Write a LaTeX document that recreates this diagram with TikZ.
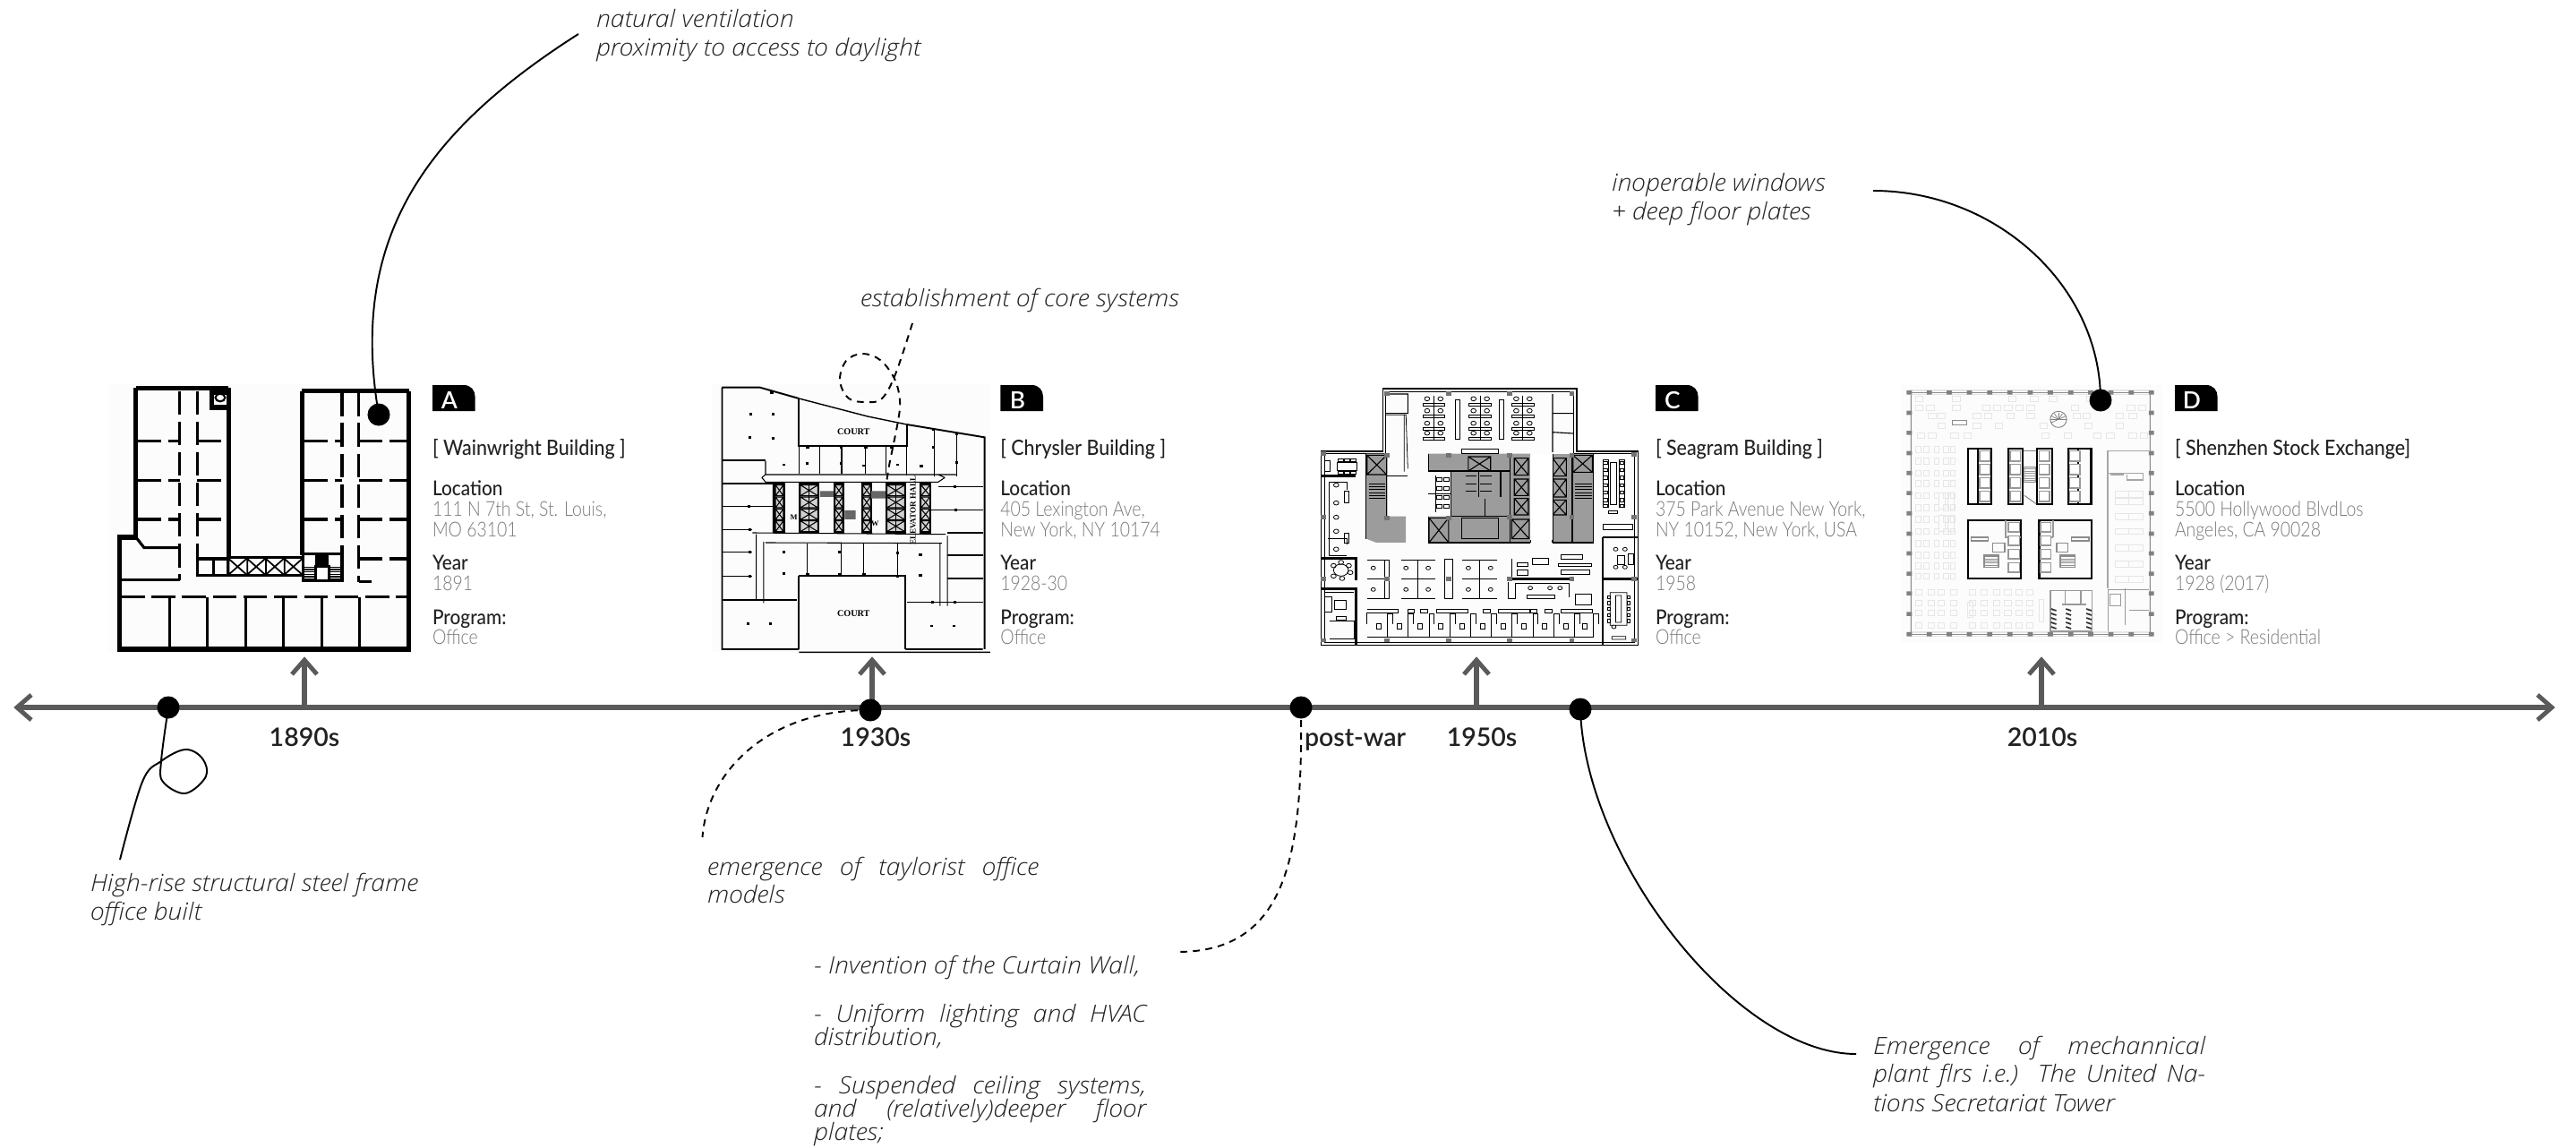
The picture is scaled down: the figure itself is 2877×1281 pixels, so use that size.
\documentclass[tikz,border=0pt]{standalone}
\usepackage{fontspec}
\setmainfont{Lato}
\newfontfamily\fnote[FakeStretch=1.07]{Open Sans Light Italic}
\newfontfamily\fmed[FakeStretch=.91]{Lato Medium}
\newfontfamily\fyear{Lato Semibold}
\newfontfamily\flight[FakeStretch=.85]{Lato Light}
\newfontfamily\fserif{Liberation Serif}
\definecolor{axis}{HTML}{5A5A5A}
\definecolor{ink}{HTML}{222222}
\definecolor{soft}{HTML}{7A7A7A}
\definecolor{coregray}{HTML}{9C9C9C}
\definecolor{pale}{HTML}{E6E6E6}
\tikzset{
  x=.01cm,y=-.01cm,
  notetext/.style={anchor=base west,inner sep=0,outer sep=0,text=ink,font=\fnote\fontsize{7.55pt}{8pt}\selectfont},
  infohead/.style={anchor=base west,inner sep=0,outer sep=0,text=ink,font=\fmed\fontsize{6.5pt}{8pt}\selectfont},
  infobody/.style={anchor=base west,inner sep=0,outer sep=0,text=soft,font=\flight\fontsize{6.5pt}{8pt}\selectfont},
  taglabel/.style={anchor=base,inner sep=0,outer sep=0,text=white,font=\fyear\fontsize{7.5pt}{8pt}\selectfont},
  yearlabel/.style={anchor=base,inner sep=0,outer sep=0,text=ink,font=\fyear\fontsize{8.1pt}{9pt}\selectfont},
  dotmark/.style={circle,fill=black,inner sep=0,minimum size=.25cm},
  axisline/.style={draw=axis,line width=1.5pt},
  axishead/.style={draw=axis,line width=1.4pt,fill=none},
  leader/.style={draw=black,line width=.55pt},
  dashleader/.style={draw=black,line width=.55pt,dash pattern=on 2.2pt off 1.8pt},
  wallA/.style={line width=1.5pt},
  partA/.style={line width=.95pt,dash pattern=on 7.5pt off 2.2pt},
  solidA/.style={line width=.9pt},
  thinB/.style={line width=.3pt},
  midB/.style={line width=.55pt},
  thinC/.style={line width=.22pt},
  midC/.style={line width=.32pt},
  heavyC/.style={line width=.7pt},
  heavyD/.style={line width=.6pt},
}
\newcommand\infoblock[8]{%
  \fill (#2,430) -- (#2+35,430) .. controls (#2+43,430) and (#2+47.6,436) .. (#2+47.6,443) -- (#2+47.6,459) -- (#2,459) -- cycle;
  \node[taglabel] (tag#1) at (#2+19,456) {#3};
  \node[infohead,font=\fmed\fontsize{6.7pt}{8pt}\selectfont] (title#1) at (#2,508) {#4};
  \node[infohead] (lochead#1) at (#2,553) {Location};
  \node[infobody] (locone#1) at (#2,576) {#5};
  \node[infobody] (loctwo#1) at (#2,599) {#6};
  \node[infohead] (yearhead#1) at (#2,636) {Year};
  \node[infobody] (yearval#1) at (#2,659) {#7};
  \node[infohead] (proghead#1) at (#2,697) {Program:};
  \node[infobody] (progval#1) at (#2,719) {#8};
}
\newcommand\xbox[4]{\draw (#1,#2) rectangle (#3,#4) (#1,#2) -- (#3,#4) (#1,#4) -- (#3,#2);}
\begin{document}
\begin{tikzpicture}
\useasboundingbox (0,0) rectangle (2877,1281);
\fill[white] (0,0) rectangle (2877,1281);

% ---------- plan A ----------
\begin{scope}[shift={(100,400)},xscale=.4146,yscale=.3333]
\fill[black!1] (50,85) rectangle (870,985);
\draw[wallA] (125,100) -- (375,100) (572,110) -- (860,110);
\draw[wallA] (125,100) -- (125,600) -- (80,600) -- (80,975) -- (860,975) -- (860,110);
\draw[wallA] (375,100) -- (375,672) (572,110) -- (572,660);
\draw[partA] (243,110) -- (243,745) (290,110) -- (290,730) (680,115) -- (680,655) (725,115) -- (725,750);
\foreach \yy in {278,410,540} {
  \draw[partA] (130,\yy) -- (243,\yy) (290,\yy) -- (372,\yy) (578,\yy) -- (680,\yy) (725,\yy) -- (858,\yy);
}
\draw[partA] (725,672) -- (858,672);
\draw[solidA] (125,600) -- (147,635) -- (243,635);
\draw[solidA] (85,743) -- (243,743) (725,748) -- (760,748);
\draw[partA] (85,800) -- (858,800);
\foreach \xx in {215,318,420,522,625,728} {\draw[solidA] (\xx,800) -- (\xx,970);}
\draw[wallA] (330,115) rectangle (375,165);
\draw[line width=.6pt] (352,132) circle[x radius=13,y radius=13];
\draw[solidA] (290,672) rectangle (372,728) (335,672) -- (335,728) (290,728) -- (572,728) (372,667) -- (572,667);
\foreach \xx in {375,425,475,525} {\draw[line width=.5pt] (\xx,672) -- (\xx+48,725) (\xx,725) -- (\xx+48,672) (\xx,672) -- (\xx,725);}
\draw[solidA] (575,655) rectangle (680,745);
\fill (608,655) rectangle (645,695);
\draw[solidA,fill=white] (610,697) rectangle (645,745);
\foreach \yy in {700,708,716,724,732,740} {\draw[line width=.4pt] (578,\yy) -- (605,\yy) (650,\yy) -- (677,\yy);}
\fill[white] (580,665) rectangle (605,690) (650,665) rectangle (675,690);
\end{scope}

% ---------- plan B ----------
\begin{scope}[shift={(770,400)},xscale=.4146,yscale=.3333]
\fill[black!1] (60,85) rectangle (810,985);
\draw[midB] (88,98) -- (88,975) -- (295,975) (88,98) -- (190,98) -- (295,135) (585,222) -- (795,265) -- (795,975) (582,975) -- (790,975);
\draw[line width=.4pt] (295,135) -- (480,195) -- (585,222) (295,985) -- (810,985);
\draw[midB] (295,135) -- (295,295) -- (585,295) -- (585,222);
\draw[midB] (295,730) -- (582,730) -- (582,975) (295,730) -- (295,975);
\node[anchor=center,inner sep=0,font=\fserif\bfseries\fontsize{2.9pt}{3pt}\selectfont] (courtup) at (442,246) {COURT};
\node[anchor=center,inner sep=0,font=\fserif\bfseries\fontsize{2.9pt}{3pt}\selectfont] (courtdn) at (442,855) {COURT};
\foreach \xx in {352,410,475,530} {\draw[thinB] (\xx,295) -- (\xx,388);}
\draw[thinB] (660,240) -- (660,395) (720,252) -- (720,395) (585,222) -- (585,392) (295,295) -- (295,388);
\draw[thinB] (205,390) -- (720,390) (205,345) -- (205,390) (205,415) -- (670,415) (195,400) -- (205,390) (195,400) -- (205,415) (688,400) -- (670,390) (688,400) -- (670,415);
\foreach \ya/\xb in {342/205,420/225,497/225,575/170,650/170,730/170,810/290} {\draw[thinB] (90,\ya) -- (\xb,\ya);}
\foreach \ya/\xb in {430/670,508/650,585/695,660/695,738/695,818/585} {\draw[thinB] (790,\ya) -- (\xb,\ya);}
\draw[thinB] (170,585) -- (690,590) (205,618) -- (680,620) (180,590) -- (180,810) (200,615) -- (200,820) (675,620) -- (675,830) (695,595) -- (695,830) (225,585) -- (225,415);
\foreach \xx in {318,408,470,560} {\draw[thinB] (\xx,620) -- (\xx,730);}
% core
\foreach \xl/\xr in {230/255,297/348,390/415,465/490,530/582,622/650} {
  \draw[midB,fill=black!18] (\xl,420) rectangle (\xr,585);
  \foreach \yt in {425,465,505,545} {
    \draw[thinB] (\xl+2,\yt) rectangle (\xr-2,\yt+36) (\xl+2,\yt) -- (\xr-2,\yt+36) (\xl+2,\yt+36) -- (\xr-2,\yt);
  }
}
\foreach \xm in {322,556} {\draw[midB] (\xm,420) -- (\xm,585);}
\fill[black!60] (352,445) rectangle (388,465) (490,445) rectangle (528,470) (418,510) rectangle (448,540);
\node[rotate=90,inner sep=0,font=\fserif\bfseries\fontsize{2.6pt}{3pt}\selectfont] (elevhall) at (602,510) {ELEVATOR HALL};
\node[inner sep=0,font=\fserif\bfseries\fontsize{2.4pt}{3pt}\selectfont] (menmark) at (281,533) {M};
\node[inner sep=0,font=\fserif\bfseries\fontsize{2.4pt}{3pt}\selectfont] (womark) at (500,553) {W};
% columns
\foreach \xx/\yy in {165/187,225/187,162/265,225/268,160/342,255/357,317/353,408/353,470/360,560/357,625/362,165/420,160/497,162/575,162/650,162/730,162/810,220/810,255/650,255/722,405/650,560/653,622/658,622/728,715/430,718/508,715/585,718/660,715/738,655/818,715/818,158/890,218/890,652/897,712/897,160/975,220/975,222/115,658/238,720/255,658/298,720/350,318/298,408/298,475/298,545/298,318/725,405/725,470/725,560/730} {
  \fill (\xx-4,\yy-4) rectangle (\xx+4,\yy+4);
}
\end{scope}

% ---------- plan C ----------
\begin{scope}[shift={(1450,400)},xscale=.4146,yscale=.3333]
\draw[midC,fill=black!1] (228,102) -- (750,102) -- (750,312) -- (915,312) -- (915,962) -- (62,962) -- (62,312) -- (228,312) -- cycle;
\draw[thinC] (236,112) -- (742,112) -- (742,320) -- (905,320) -- (905,952) -- (72,952) -- (72,320) -- (236,320) -- cycle;
% grey core
\fill[coregray] (183,320) -- (240,320) -- (240,530) -- (290,530) -- (290,618) -- (210,618) -- (183,605) -- cycle;
\fill[coregray] (350,320) -- (625,320) -- (625,618) -- (350,618) -- (350,530) -- (412,530) -- (412,380) -- (350,380) -- cycle;
\fill[coregray] (685,320) -- (795,320) -- (795,618) -- (685,618) -- cycle;
\begin{scope}[midC]
\xbox{185}{325}{238}{390}\xbox{352}{535}{405}{618}\xbox{458}{330}{518}{378}
\xbox{582}{335}{620}{392}\xbox{582}{405}{620}{460}\xbox{582}{470}{620}{525}\xbox{575}{540}{622}{605}
\xbox{685}{335}{722}{395}\xbox{685}{405}{722}{465}\xbox{685}{475}{722}{525}\xbox{740}{325}{792}{382}
\draw (570,320) -- (570,618) (625,320) -- (625,618) (685,320) -- (685,618) (738,320) -- (738,618) (795,320) -- (795,618);
\draw (183,320) -- (183,605) (238,320) -- (238,530) (350,320) -- (350,380) (350,530) -- (350,618) (412,380) -- (412,530);
\draw (350,378) -- (570,378) (350,618) -- (625,618) (685,618) -- (795,618) (412,382) -- (412,530);
\draw (440,535) -- (540,535) -- (540,605) -- (440,605) -- cycle (485,380) -- (485,465) (545,380) -- (545,465) (412,530) -- (570,530) (502,470) -- (502,530);
\foreach \yy in {420,430,440,450,460,470} {\draw[thinC] (190,\yy) -- (235,\yy) (745,\yy) -- (790,\yy);}
\foreach \yy in {395,420,445} {\draw[thinC] (452,\yy) -- (480,\yy) (490,\yy) -- (520,\yy);}
\end{scope}
\fill[white] (625,322) rectangle (685,610);
% desks, top
\begin{scope}[thinC]
\foreach \cx in {365,490,605} {
  \draw[midC] (\cx,125) -- (\cx,272);
  \foreach \dy in {150,190,232,265} {
    \draw (\cx-30,\dy) rectangle (\cx+30,\dy+9);
    \draw (\cx-18,\dy-14) circle[x radius=7,y radius=7] (\cx+18,\dy-14) circle[x radius=7,y radius=7];
  }
}
\draw (422,138) rectangle (435,272) (542,138) rectangle (553,272);
\draw (235,190) -- (290,190) -- (295,370) (285,190) -- (285,380);
\draw (440,305) rectangle (538,318);
\foreach \xx/\xy in {372/400,372/430,372/460,372/490,392/400,392/430,392/460,392/490} {\draw (\xx,\xy) rectangle (\xx+14,\xy+12);}
\draw (370,392) -- (370,515) (350,455) -- (410,455);
\end{scope}
\draw[midC] (240,120) -- (295,120) -- (295,185) -- (235,185) (685,120) -- (685,315) (685,185) -- (740,185) (685,248) -- (740,252);
\draw[midC] (238,395) -- (295,395);
% left rooms
\draw[heavyC] (62,395) -- (155,395) (62,670) -- (155,670) -- (155,745) (62,772) -- (155,772) -- (155,962);
\begin{scope}[thinC]
\draw (105,350) rectangle (158,375);
\foreach \xx in {108,125,142} {\draw (\xx,336) rectangle (\xx+14,346) (\xx,378) rectangle (\xx+14,388);}
\draw (72,342) rectangle (85,378);
\draw (82,415) -- (130,415) -- (130,440) (125,445) rectangle (137,485) (80,605) -- (130,605) -- (130,625) (125,585) rectangle (137,620) (82,415) -- (82,660) -- (130,660);
\foreach \yy in {425,485,533,580,640} {\draw (102,\yy) circle[x radius=7,y radius=7];}
\draw (115,710) circle[x radius=20,y radius=20];
\foreach \cx/\cy in {115/684,136/695,140/718,118/738,95/730,95/695} {\draw (\cx,\cy) circle[x radius=7,y radius=7];}
\draw (72,785) -- (150,785) (98,812) rectangle (128,842) (72,800) rectangle (90,850) (85,880) -- (150,880) -- (150,940) -- (85,940) (102,865) rectangle (128,878);
\end{scope}
% cubicles
\begin{scope}[thinC]
\draw (185,675) -- (245,675) -- (245,805) -- (185,805) (185,740) -- (245,740) (232,675) -- (232,805);
\draw (277,675) -- (368,675) (277,805) -- (368,805) (322,675) -- (322,805) (277,740) -- (368,740);
\draw (395,672) rectangle (415,805) (442,675) -- (535,675) (442,805) -- (535,805) (488,675) -- (488,805) (442,740) -- (535,740);
\foreach \cx in {202,290,350,458,518} {\draw (\cx,703) circle[x radius=6,y radius=6] (\cx,775) circle[x radius=6,y radius=6];}
% bottom comb
\draw (185,935) -- (795,935) (185,840) -- (268,840) -- (268,852) -- (185,852) -- (185,890);
\foreach \xx in {372,538,708} {\draw (\xx,840) rectangle (\xx+85,852);}
\foreach \xx in {295,330,498,625,665} {\draw (\xx,840) rectangle (\xx+18,852);}
\foreach \xx in {240,296,352,408,464,520,576,632,688,744,795} {
  \draw (\xx,855) -- (\xx,935) (\xx,855) -- (\xx+14,855) (\xx+14,855) -- (\xx+14,890);
  \draw (\xx-30,890) rectangle (\xx-18,908);
}
% right rooms
\draw (822,340) rectangle (836,500) (865,340) rectangle (878,500) (840,350) rectangle (858,490) (835,510) rectangle (860,520);
\foreach \yy in {345,370,395,420,445,470,490} {\draw (822,\yy) rectangle (832,\yy+10) (866,\yy) rectangle (876,\yy+10);}
\draw (820,555) rectangle (900,575);
\draw (840,785) rectangle (885,895) (855,795) rectangle (870,885) (850,900) circle[x radius=6,y radius=6] (845,932) rectangle (882,942);
\foreach \yy in {795,815,835,855,875} {\draw (832,\yy) rectangle (840,\yy+10) (885,\yy) rectangle (893,\yy+10);}
\draw (860,660) rectangle (880,690) (888,655) rectangle (903,690);
\foreach \cx in {855,880} {\draw (\cx,640) circle[x radius=6,y radius=6];}
\draw (855,700) circle[x radius=6,y radius=6] (880,700) circle[x radius=6,y radius=6];
% lounge
\draw (575,672) -- (575,740) (590,685) rectangle (618,698) (590,708) rectangle (618,728) (630,670) rectangle (675,690) (700,688) rectangle (790,698) (708,658) rectangle (765,672) (708,708) rectangle (785,725);
\draw (565,750) -- (565,805) -- (585,805) -- (585,755) -- (730,755) -- (730,800) (615,792) rectangle (690,805) (745,790) rectangle (790,825);
\foreach \cx in {625,678,705} {\draw (\cx,770) circle[x radius=6,y radius=6];}
\end{scope}
\draw[heavyC] (575,740) -- (740,740) (820,600) -- (915,600) (820,600) -- (820,962) (820,740) -- (915,740) (155,945) -- (155,962);
\foreach \cx/\cy in {238/118,405/118,570/118,737/118,68/320,238/325,405/325,570/325,737/325,905/322,68/533,238/535,405/535,570/533,737/533,905/533,68/740,238/740,405/740,570/740,737/740,905/740,68/945,238/945,405/945,570/945,737/945,905/945} {
  \fill[black!55] (\cx-7,\cy-7) rectangle (\cx+7,\cy+7);
}
\end{scope}

% ---------- plan D ----------
\begin{scope}[shift={(2100,400)},xscale=.4146,yscale=.3333]
\fill[black!1] (55,90) rectangle (760,955);
\draw[pale,line width=.35pt] (78,108) rectangle (730,122) (78,918) rectangle (730,932) (80,115) -- (80,925) (724,115) -- (724,925);
\draw[black!45,line width=.3pt] (78,115) -- (730,115) (78,925) -- (730,925) (84,122) -- (84,918) (728,122) -- (728,918);
% furniture
\begin{scope}[pale,line width=.25pt]
\foreach \fx/\fy in {95/128,195/128,345/128,405/128,455/128,555/128,95/158,125/158,195/158,275/158,305/158,335/158,365/158,395/158,515/158,665/158,695/158,130/185,155/185,250/185,280/185,340/185,395/185,520/185,545/185,635/185,670/185,155/218,250/218,310/218,430/218,550/218,635/218,100/250,130/250,190/250,225/250,435/250,495/250,575/250,610/250,670/250,700/250} {
  \draw (\fx,\fy) rectangle (\fx+20,\fy+18);
}
\foreach \fy in {295,335,375,410,450,490,530,570,610,650,685,720} {
  \foreach \fx in {95,118,145,170,188} {\draw (\fx,\fy) rectangle (\fx+14,\fy+20);}
}
\draw (157,450) rectangle (175,505) (182,450) rectangle (200,505) (157,525) rectangle (175,580) (182,525) rectangle (200,580) (235,818) rectangle (250,868) (428,808) rectangle (440,882);
\foreach \fy in {775,810,845,885} {\foreach \fx in {95,128,155,190,240,270,305,335,365,395} {\draw (\fx,\fy) rectangle (\fx+17,\fy+18);}}
\foreach \fy in {445,470,520,570,625,680,730} {\draw (633,\fy) rectangle (708,\fy+20) (670,\fy) -- (670,\fy+20);}
\end{scope}
\draw[black!45,line width=.3pt] (195,208) rectangle (232,223);
\draw[black!50,line width=.25pt] (480,205) circle[x radius=22,y radius=27];
\foreach \rr in {150,180,210,240,270,300,330,360} {\draw[black!50,line width=.2pt] (480,205) -- ++(\rr:22);}
% core, top row
\draw[heavyD] (237,302) rectangle (300,488) (345,302) rectangle (383,488) (423,302) rectangle (463,488) (507,302) rectangle (568,488);
\draw[heavyD] (263,302) -- (263,488) (532,302) -- (532,488);
\foreach \ux in {268,350,428,510} {
  \foreach \uy in {310,355,400,445} {\draw[black!40,line width=.4pt,fill=white] (\ux,\uy) rectangle (\ux+28,\uy+35);}
}
\draw[black!45,line width=.3pt] (386,310) -- (420,310) (388,365) rectangle (418,415) (388,460) -- (420,488);
\foreach \uy in {370,378,386,394,402,410} {\draw[black!40,line width=.25pt] (388,\uy) -- (418,\uy);}
% core, bottom row
\draw[heavyD] (237,542) -- (378,542) -- (378,738) -- (237,738) -- cycle;
\draw[heavyD] (428,542) -- (570,542) -- (570,738) -- (428,738) -- cycle;
\draw[black!40,line width=.5pt] (338,542) -- (338,600) (335,600) -- (378,600) (466,542) -- (466,600) (430,600) -- (466,600);
\foreach \uy in {550,595,640,685} {\draw[black!40,line width=.4pt,fill=white] (345,\uy) rectangle (375,\uy+32) (432,\uy) rectangle (460,\uy+32);}
\draw[black!45,line width=.4pt] (245,600) rectangle (290,612) (515,600) rectangle (562,612) (302,620) rectangle (335,650) (475,620) rectangle (505,650) (280,660) rectangle (318,700) (485,660) rectangle (525,700);
\foreach \uy in {665,672,679,686,693} {\draw[black!45,line width=.25pt] (280,\uy) -- (318,\uy) (485,\uy) -- (525,\uy);}
% right wing
\draw[black!35,line width=.4pt] (613,310) -- (724,310) (613,310) -- (613,770) (613,385) -- (708,385) -- (708,408) -- (665,408) -- (665,390) (620,390) -- (655,390);
\draw[black!40,line width=.35pt] (613,775) -- (724,775) (613,775) -- (613,915) (660,770) -- (660,895) (670,845) -- (724,845);
\draw[black!40,line width=.35pt] (618,790) rectangle (648,830);
% bottom stair block
\draw[black!40,line width=.4pt] (458,778) rectangle (570,915) (498,778) -- (498,825) (540,778) -- (540,825) (490,825) -- (555,825);
\foreach \sx in {460,500,555} {\foreach \sy in {840,855,870,885,900} {\draw[black!80,line width=.5pt] (\sx,\sy) -- (\sx+14,\sy+6);}}
% perimeter columns
\foreach \cc in {78,132,186,240,295,349,404,458,513,567,621,676,730} {
  \fill[black!50] (\cc-7,108) rectangle (\cc+7,122) (\cc-7,918) rectangle (\cc+7,932);
}
\foreach \cc in {183,250,318,385,452,520,588,654,722,788,857} {
  \fill[black!50] (71,\cc-7) rectangle (85,\cc+7) (723,\cc-7) rectangle (737,\cc+7);
}
\end{scope}

% ---------- info blocks ----------
\infoblock{A}{483}{A}{[ Wainwright Building ]}{111 N 7th St, St. Louis,}{MO 63101}{1891}{Office}
\infoblock{B}{1117.4}{B}{[ Chrysler Building ]}{405 Lexington Ave,}{New York, NY 10174}{1928-30}{Office}
\infoblock{C}{1849}{C}{[ Seagram Building ]}{375 Park Avenue New York,}{NY 10152, New York, USA}{1958}{Office}
\infoblock{D}{2429}{D}{[ Shenzhen Stock Exchange]}{5500 Hollywood BlvdLos}{Angeles, CA 90028}{1928 (2017)}{Office > Residential}

% ---------- axis ----------
\coordinate (axisL) at (19,790);
\coordinate (axisR) at (2850,790);
\draw[axisline] (axisL) -- (axisR);
\draw[axishead] (35,776) -- (axisL) -- (35,804);
\draw[axishead] (2834,776) -- (axisR) -- (2834,804);
\foreach \nm/\ax in {A/340,B/974,C/1649,D/2280} {
  \coordinate (up\nm) at (\ax,737);
  \coordinate (base\nm) at (\ax,790);
  \draw[axisline] (base\nm) -- (up\nm);
  \draw[axishead] (\ax-14,753) -- (up\nm) -- (\ax+14,753);
}

% ---------- dots ----------
\node[dotmark] (dotone) at (188,790) {};
\node[dotmark] (dottwo) at (972,793) {};
\node[dotmark] (dotthree) at (1453,790) {};
\node[dotmark] (dotfour) at (1765,792) {};
\node[dotmark] (dottopA) at (423,463) {};
\node[dotmark] (dottopD) at (2346,447) {};

% ---------- text ----------
\node[yearlabel] (yr1890) at (340,833.5) {1890s};
\node[yearlabel] (yr1930) at (978,833.5) {1930s};
\node[yearlabel,anchor=base west] (yrwar) at (1457,833.5) {post-war};
\node[yearlabel] (yr1950) at (1655,833.5) {1950s};
\node[yearlabel] (yr2010) at (2281,833.5) {2010s};

\node[notetext] (natone) at (666,30) {natural ventilation};
\node[notetext] (nattwo) at (666,62) {proximity to access to daylight};
\node[notetext] (core) at (961,342) {establishment of core systems};
\node[notetext] (inopone) at (1800,213) {inoperable windows};
\node[notetext] (inoptwo) at (1800,245) {+ deep floor plates};
\node[notetext] (hrone) at (101,995) {High-rise structural steel frame};
\node[notetext] (hrtwo) at (101,1027) {office built};
\node[notetext] (tayone) at (790,977) {\makebox[3.7cm][s]{emergence of taylorist office}};
\node[notetext] (taytwo) at (790,1008) {models};
\node[notetext] (cwone) at (909,1087) {- Invention of the Curtain Wall,};
\node[notetext] (cwtwo) at (909,1141) {\makebox[3.71cm][s]{- Uniform lighting and HVAC}};
\node[notetext] (cwthree) at (909,1167) {distribution,};
\node[notetext] (cwfour) at (909,1221) {\makebox[3.71cm][s]{- Suspended ceiling systems,}};
\node[notetext] (cwfive) at (909,1247) {\makebox[3.71cm][s]{and (relatively)deeper floor}};
\node[notetext] (cwsix) at (909,1273) {plates;};
\node[notetext] (emone) at (2092,1177) {\makebox[3.71cm][s]{Emergence of mechannical}};
\node[notetext] (emtwo) at (2092,1208) {\makebox[3.71cm][s]{plant flrs i.e.) The United Na-}};
\node[notetext] (emthree) at (2092,1241) {tions Secretariat Tower};

% ---------- leaders ----------
\coordinate (endnat) at (646,38);
\coordinate (endinop) at (2092,213);
\coordinate (endem) at (2073,1177);
\coordinate (endhr) at (134,960);
\coordinate (endtay) at (784.5,935);
\coordinate (endwar) at (1315,1063);
\coordinate (endcore) at (1019,361);
\coordinate (endcoreb) at (990,540);
\draw[leader] (endnat) .. controls (470,150) and (390,270) .. (dottopA.center);
\draw[leader] (endinop) .. controls (2230,213) and (2346,320) .. (dottopD.center);
\draw[leader] (dotfour.center) .. controls (1770,960) and (1940,1177) .. (endem);
\draw[leader] plot[smooth,tension=.6] coordinates {(dotone.center) (180,850) (182,873) (207,886) (230,867) (226,847) (207,837) (180,850) (159,873) (endhr)};
\draw[dashleader] (dottwo.center) .. controls (860,792) and (790,860) .. (endtay);
\draw[dashleader] (dotthree.center) .. controls (1455,950) and (1440,1063) .. (endwar);
\draw[dashleader] plot[smooth,tension=.6] coordinates {(endcore) (1000,418) (985,445) (968,449) (948,445) (938,425) (945,403) (963,395) (983,402) (999,423) (1005,447) (1003,470) (993,520) (endcoreb)};
\end{tikzpicture}
\end{document}
